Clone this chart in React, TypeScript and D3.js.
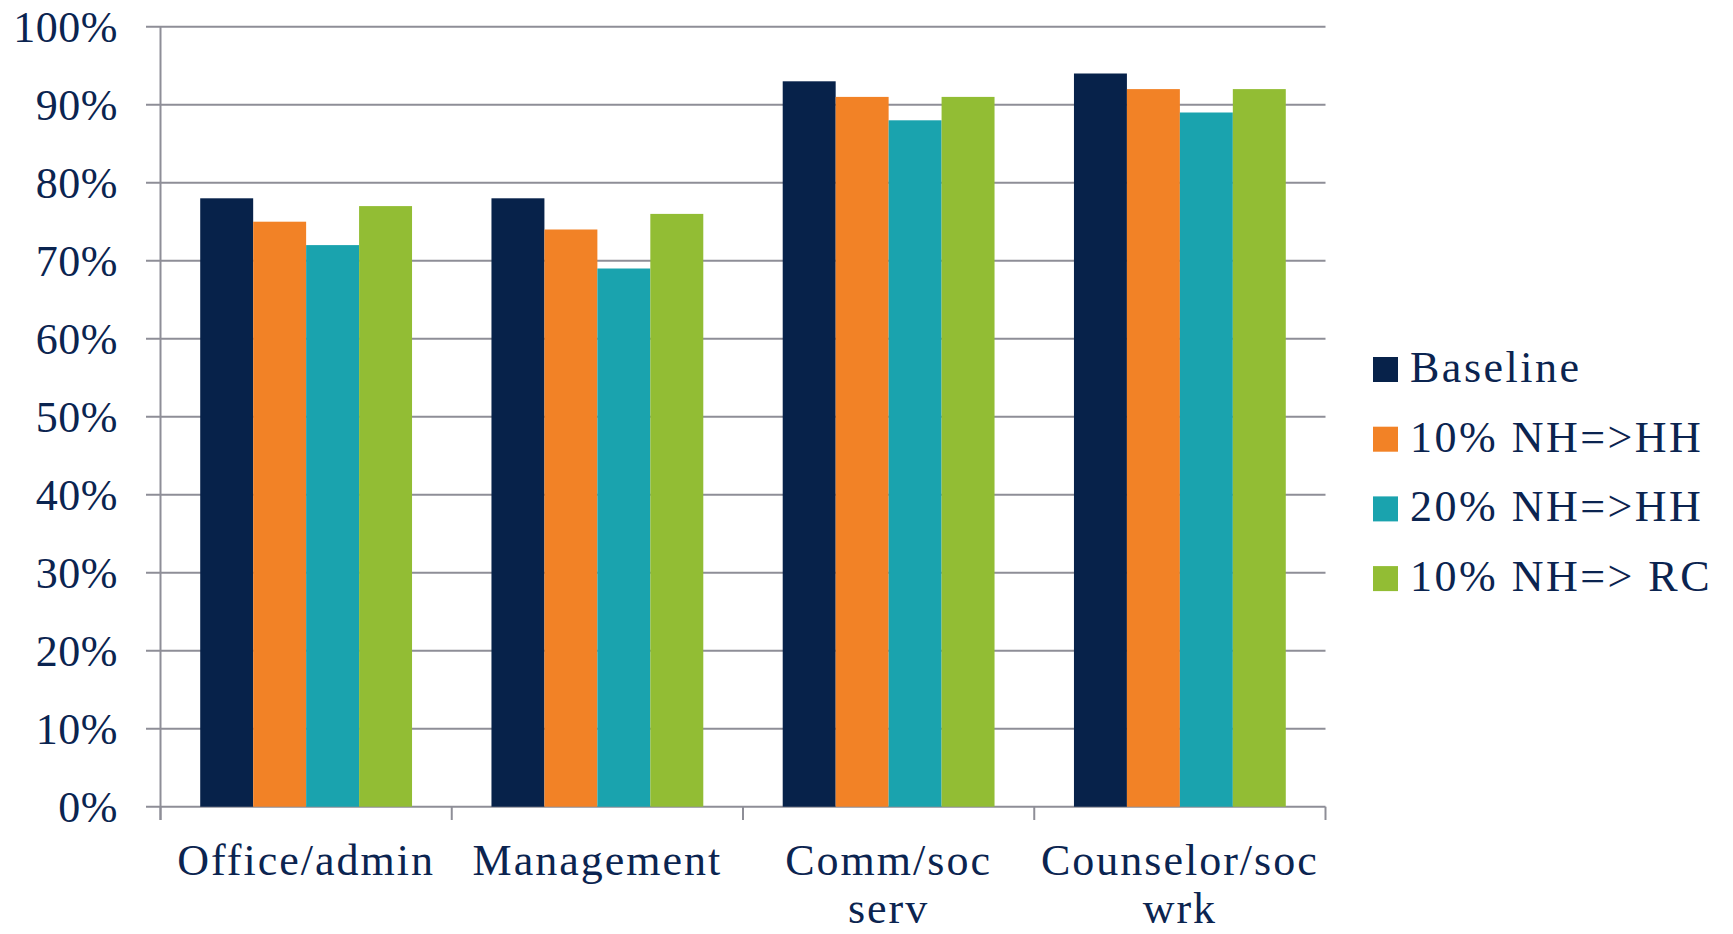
import React from "react";
import * as d3 from "d3";

const categories: string[][] = [["Office/admin"], ["Management"], ["Comm/soc", "serv"], ["Counselor/soc", "wrk"]];
const seriesNames = ["Baseline", "10% NH=>HH", "20% NH=>HH", "10% NH=> RC"];
const baseline = [78, 78, 93, 94];
const nh10hh = [75, 74, 91, 92];
const nh20hh = [72, 69, 88, 89];
const nh10rc = [77, 76, 91, 92];
const yTicks = [0, 10, 20, 30, 40, 50, 60, 70, 80, 90, 100];
const colors = ["#07224A", "#F28226", "#1AA3AE", "#92BD34"];

const W = 1733, H = 934;
const left = 160.5, right = 1325.5, top = 26.7, bottom = 806.7;
const FONT = "'Liberation Serif', 'DejaVu Serif', serif";
const TEXT = "#0B2450";
const GRID = "#8E8E97";

export default function App() {
  const series = [baseline, nh10hh, nh20hh, nh10rc];
  const keys = categories.map((c) => c.join(" "));
  const x0 = d3.scaleBand<string>().domain(keys).range([left, right]).paddingInner(0.2727).paddingOuter(0.13636);
  const x1 = d3.scaleBand<number>().domain([0, 1, 2, 3]).range([0, x0.bandwidth()]);
  const y = d3.scaleLinear().domain([0, 100]).range([bottom, top]);
  const step = (right - left) / keys.length;

  return (
    <svg width={W} height={H} style={{ position: "absolute", left: 0, top: 0, background: "#fff" }} fontFamily={FONT}>
      {yTicks.map((t) => (
        <g key={t}>
          <line x1={146} x2={right} y1={y(t)} y2={y(t)} stroke={GRID} strokeWidth={2} />
          <text x={118} y={y(t)} dy="0.34em" textAnchor="end" fontSize={44} fill={TEXT} letterSpacing={0.5}>{t}%</text>
        </g>
      ))}
      <line x1={left} x2={left} y1={top} y2={820} stroke={GRID} strokeWidth={2} />
      {d3.range(keys.length + 1).map((i) => (
        <line key={i} x1={left + i * step} x2={left + i * step} y1={bottom} y2={820} stroke={GRID} strokeWidth={2} />
      ))}
      {keys.map((k, ci) => (
        <g key={k}>
          {series.map((s, si) => (
            <rect key={si} x={(x0(k) as number) + (x1(si) as number)} y={y(s[ci])} width={x1.bandwidth()} height={y(0) - y(s[ci])} fill={colors[si]} />
          ))}
          <text x={(x0(k) as number) + x0.bandwidth() / 2} y={875} textAnchor="middle" fontSize={44} fill={TEXT} letterSpacing={2}>
            {categories[ci].map((line, li) => (
              <tspan key={li} x={(x0(k) as number) + x0.bandwidth() / 2} dy={li === 0 ? 0 : 48}>{line}</tspan>
            ))}
          </text>
        </g>
      ))}
      {seriesNames.map((n, i) => (
        <g key={n} transform={`translate(1373, ${357 + i * 69.7})`}>
          <rect x={0} y={0} width={25} height={25} fill={colors[i]} />
          <text x={37} y={25} fontSize={44} fill={TEXT} letterSpacing={2.5}>{n}</text>
        </g>
      ))}
    </svg>
  );
}
